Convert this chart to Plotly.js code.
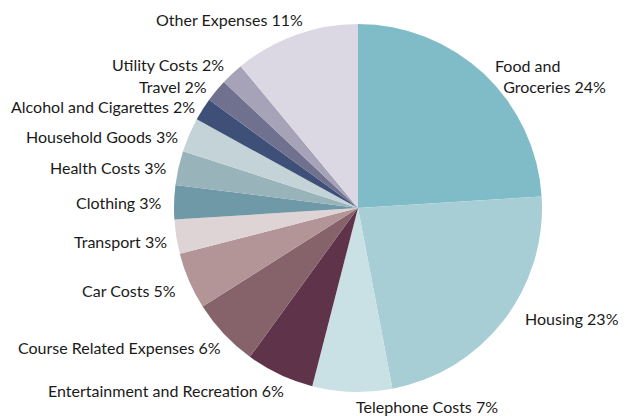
<!DOCTYPE html>
<html>
<head>
<meta charset="utf-8">
<script src="https://cdn.plot.ly/plotly-3.0.1.min.js"></script>
<style>html,body{margin:0;padding:0;background:#fff;}#chart{width:633px;height:416px;}</style>
</head>
<body>
<div id="chart"></div>
<script>
// Data
var categories = ["Food and Groceries", "Housing", "Telephone Costs", "Entertainment and Recreation",
  "Course Related Expenses", "Car Costs", "Transport", "Clothing", "Health Costs",
  "Household Goods", "Alcohol and Cigarettes", "Travel", "Utility Costs", "Other Expenses"];
var values = [24, 23, 7, 6, 6, 5, 3, 3, 3, 3, 2, 2, 2, 11];
var labelTexts = ["Food and<br>\u00a0\u00a0Groceries 24%", "Housing 23%", "Telephone Costs 7%",
  "Entertainment and Recreation 6%", "Course Related Expenses 6%", "Car Costs 5%", "Transport 3%",
  "Clothing 3%", "Health Costs 3%", "Household Goods 3%", "Alcohol and Cigarettes 2%",
  "Travel 2%", "Utility Costs 2%", "Other Expenses 11%"];
var colors = ["#80bcc7", "#a7ced5", "#c9e0e5", "#5f3349", "#86636a", "#b39598", "#dfd4d5",
  "#6f99a6", "#98b3ba", "#c3d3d8", "#3e4f78", "#70708f", "#a6a3b8", "#dbd8e3"];

// Layout geometry
var W = 633, H = 416;
var cx = 358, cy = 208, R = 184, labelR = 196;
// small per-label nudges [dx, dy] in px
var nudge = [[1, 11], [10, -10], [2, 3], [11, 5], [8, 5], [0, 5], [5, 3], [2, 1], [1, 2],
  [2, 6], [4, 4], [2, 3], [2, -1], [13, -4]];

var total = values.reduce(function (a, b) { return a + b; }, 0);
var annotations = [];
var cum = 0;
var font = {family: "Lato, sans-serif", size: 16, color: "#1a1a1a"};
for (var i = 0; i < values.length; i++) {
  var mid = (cum + values[i] / 2) / total * 2 * Math.PI;
  cum += values[i];
  var px = cx + labelR * Math.sin(mid) + nudge[i][0];
  var py = cy - labelR * Math.cos(mid) + nudge[i][1];
  var right = Math.sin(mid) >= 0 || Math.abs(Math.sin(mid)) < 0.05;
  annotations.push({
    xref: "paper", yref: "paper",
    x: px / W, y: 1 - py / H,
    text: labelTexts[i],
    showarrow: false,
    xanchor: right ? "left" : "right",
    yanchor: "middle",
    align: right ? "left" : "right",
    font: font
  });
}

var trace = {
  type: "pie",
  labels: categories,
  values: values,
  sort: false,
  direction: "clockwise",
  rotation: 0,
  textinfo: "none",
  hoverinfo: "label+percent",
  marker: {colors: colors, line: {width: 0}},
  domain: {x: [(cx - R) / W, (cx + R) / W], y: [1 - (cy + R) / H, 1 - (cy - R) / H]},
  showlegend: false
};

var layout = {
  width: W, height: H,
  margin: {l: 0, r: 0, t: 0, b: 0},
  paper_bgcolor: "#ffffff",
  plot_bgcolor: "#ffffff",
  showlegend: false,
  annotations: annotations
};

Plotly.newPlot("chart", [trace], layout, {displayModeBar: false, staticPlot: true});
</script>
</body>
</html>
